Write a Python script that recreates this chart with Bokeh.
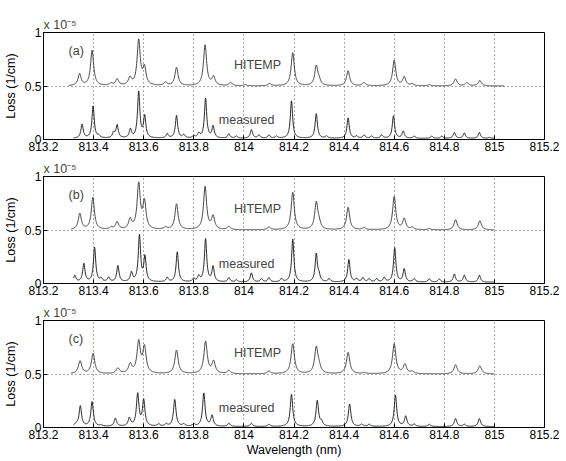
import numpy as np
from bokeh.plotting import figure
from bokeh.models import FixedTicker, Label
from bokeh.layouts import column
from bokeh.embed import file_html
from bokeh.resources import INLINE

# ---------------- data (units of 1e-5 1/cm) ----------------
x_ticks = [813.2, 813.4, 813.6, 813.8, 814.0, 814.2, 814.4, 814.6, 814.8, 815.0, 815.2]
x_tick_labels = ["813.2", "813.4", "813.6", "813.8", "814", "814.2", "814.4",
                 "814.6", "814.8", "815", "815.2"]
y_ticks = [0, 0.5, 1]
y_tick_labels = ["0", "0.5", "1"]
panel_labels = ["(a)", "(b)", "(c)"]
series_names = ["HITEMP", "measured"]
scale_label = "x 10\u207b\u2075"
hitemp_offset = 0.5

# panel (a)
hit_a_centers = [813.344, 813.394, 813.47, 813.494, 813.545, 813.580, 813.603, 813.687,
                 813.731, 813.845, 813.879, 813.947, 814.006, 814.102, 814.195, 814.289,
                 814.30, 814.416, 814.479, 814.600, 814.640, 814.672, 814.741, 814.845,
                 814.890, 814.942]
hit_a_heights = [0.11, 0.33, 0.02, 0.06, 0.07, 0.42, 0.16, 0.03, 0.17, 0.38, 0.08, 0.03,
                 0.01, 0.02, 0.31, 0.18, 0.04, 0.14, 0.03, 0.24, 0.08, 0.015, 0.01, 0.065,
                 0.03, 0.05]
mea_a_centers = [813.354, 813.398, 813.42, 813.48, 813.494, 813.547, 813.580, 813.604,
                 813.694, 813.731, 813.76, 813.80, 813.82, 813.847, 813.877, 813.94, 813.97,
                 814.03, 814.06, 814.10, 814.13, 814.190, 814.289, 814.33, 814.416, 814.45,
                 814.48, 814.51, 814.55, 814.597, 814.636, 814.68, 814.75, 814.79, 814.840,
                 814.880, 814.940, 814.98]
mea_a_heights = [0.13, 0.30, 0.02, 0.05, 0.12, 0.08, 0.43, 0.20, 0.04, 0.21, 0.03, 0.02,
                 0.04, 0.37, 0.11, 0.04, 0.02, 0.08, 0.03, 0.03, 0.02, 0.35, 0.23, 0.02,
                 0.19, 0.02, 0.03, 0.02, 0.03, 0.21, 0.065, 0.02, 0.02, 0.02, 0.055, 0.05,
                 0.055, 0.01]

# panel (b)
hit_b_centers = [813.345, 813.397, 813.47, 813.494, 813.546, 813.580, 813.603, 813.687,
                 813.731, 813.845, 813.877, 813.94, 814.10, 814.195, 814.289, 814.30,
                 814.416, 814.479, 814.600, 814.640, 814.672, 814.74, 814.845, 814.942]
hit_b_heights = [0.15, 0.30, 0.02, 0.07, 0.09, 0.42, 0.25, 0.02, 0.24, 0.40, 0.12, 0.03,
                 0.025, 0.35, 0.25, 0.05, 0.21, 0.02, 0.31, 0.10, 0.02, 0.01, 0.095, 0.085]
mea_b_centers = [813.325, 813.361, 813.404, 813.43, 813.46, 813.497, 813.551, 813.583,
                 813.605, 813.694, 813.734, 813.80, 813.82, 813.847, 813.877, 813.94, 813.97,
                 814.03, 814.07, 814.10, 814.15, 814.195, 814.289, 814.30, 814.34, 814.419,
                 814.45, 814.475, 814.50, 814.53, 814.56, 814.602, 814.640, 814.68, 814.74,
                 814.78, 814.84, 814.88, 814.94]
mea_b_heights = [0.06, 0.17, 0.32, 0.03, 0.04, 0.15, 0.085, 0.43, 0.23, 0.04, 0.28, 0.03,
                 0.05, 0.40, 0.14, 0.04, 0.02, 0.085, 0.03, 0.04, 0.03, 0.40, 0.26, 0.05,
                 0.03, 0.21, 0.03, 0.04, 0.03, 0.03, 0.04, 0.32, 0.12, 0.03, 0.03, 0.03,
                 0.075, 0.065, 0.065]

# panel (c)
hit_c_centers = [813.346, 813.398, 813.497, 813.546, 813.580, 813.603, 813.731, 813.847,
                 813.879, 813.94, 814.10, 814.195, 814.289, 814.30, 814.416, 814.48,
                 814.600, 814.643, 814.672, 814.845, 814.942]
hit_c_heights = [0.12, 0.19, 0.05, 0.085, 0.29, 0.24, 0.22, 0.30, 0.11, 0.03, 0.025, 0.28,
                 0.24, 0.05, 0.20, 0.01, 0.28, 0.085, 0.02, 0.085, 0.075]
mea_c_centers = [813.33, 813.347, 813.394, 813.43, 813.487, 813.543, 813.576, 813.600,
                 813.66, 813.69, 813.724, 813.76, 813.80, 813.840, 813.873, 813.94, 814.03,
                 814.10, 814.190, 814.293, 814.31, 814.422, 814.47, 814.50, 814.605,
                 814.646, 814.68, 814.74, 814.845, 814.88, 814.940]
mea_c_heights = [0.02, 0.19, 0.23, 0.01, 0.075, 0.075, 0.30, 0.24, 0.02, 0.02, 0.25, 0.02,
                 0.02, 0.31, 0.10, 0.03, 0.03, 0.02, 0.30, 0.24, 0.04, 0.21, 0.02, 0.02,
                 0.29, 0.095, 0.02, 0.02, 0.075, 0.02, 0.075]

# spectral extent of each trace (nm) and line half-widths (nm)
hit_spans = [(813.30, 815.04), (813.31, 815.00), (813.31, 815.00)]
mea_spans = [(813.32, 815.00), (813.32, 815.00), (813.32, 815.00)]
hit_widths = [0.0075, 0.0075, 0.008]
mea_widths = [0.0055, 0.0055, 0.006]
mea_base = [0.01, 0.012, 0.008]

hit_centers = [hit_a_centers, hit_b_centers, hit_c_centers]
hit_heights = [hit_a_heights, hit_b_heights, hit_c_heights]
mea_centers = [mea_a_centers, mea_b_centers, mea_c_centers]
mea_heights = [mea_a_heights, mea_b_heights, mea_c_heights]

FONT = "Liberation Sans"


def line_profile(span, centers, heights, gamma, base):
    x = np.arange(span[0], span[1] + 1e-9, 0.001)
    y = np.full_like(x, base)
    for c, h in zip(centers, heights):
        y += h / (1.0 + ((x - c) / gamma) ** 2)
    return x, y


def make_panel(i, last):
    top = 32 if i == 0 else 16
    bottom = 31 if last else 20
    p = figure(frame_width=501, frame_height=107, x_range=(813.2, 815.2),
               y_range=(0, 1), output_backend="svg", toolbar_location=None,
               min_border_left=40, min_border_right=15, min_border_top=top,
               min_border_bottom=bottom)
    p.background_fill_color = "white"
    p.border_fill_color = "white"
    p.outline_line_color = "black"
    p.outline_line_width = 1

    p.title.text = scale_label
    p.title.align = "left"
    p.title.text_font = FONT
    p.title.text_font_size = "12.5px"
    p.title.text_font_style = "normal"
    p.title.standoff = 1
    p.title.offset = 0

    p.xaxis.ticker = FixedTicker(ticks=x_ticks)
    p.xaxis.major_label_overrides = dict(zip(x_ticks, x_tick_labels))
    p.yaxis.ticker = FixedTicker(ticks=y_ticks)
    p.yaxis.major_label_overrides = dict(zip(y_ticks, y_tick_labels))
    for ax in (p.xaxis, p.yaxis):
        ax.major_tick_in = 4
        ax.major_tick_out = 0
        ax.minor_tick_line_color = None
        ax.axis_line_color = "black"
        ax.major_tick_line_color = "black"
        ax.major_label_text_font = FONT
        ax.major_label_text_font_size = "12px"
        ax.major_label_text_color = "black"
        ax.major_label_standoff = 2
        ax.axis_label_text_font = FONT
        ax.axis_label_text_font_size = "12.5px"
        ax.axis_label_text_font_style = "normal"
        ax.axis_label_text_color = "black"
    p.yaxis.axis_label = "Loss (1/cm)"
    p.yaxis.axis_label_standoff = 4
    if last:
        p.xaxis.axis_label = "Wavelength (nm)"
        p.xaxis.axis_label_standoff = 1

    p.xgrid.ticker = FixedTicker(ticks=x_ticks)
    p.ygrid.ticker = FixedTicker(ticks=[0.5])
    for g in (p.xgrid, p.ygrid):
        g.grid_line_color = "#555555"
        g.grid_line_dash = "1 3"
        g.grid_line_width = 1

    xh, yh = line_profile(hit_spans[i], hit_centers[i], hit_heights[i], hit_widths[i],
                          hitemp_offset)
    xm, ym = line_profile(mea_spans[i], mea_centers[i], mea_heights[i], mea_widths[i],
                          mea_base[i])
    p.line(xh, yh, line_color="#333333", line_width=0.9)
    p.line(xm, ym, line_color="#111111", line_width=0.9)

    p.add_layout(Label(x=813.3, y=0.83, text=panel_labels[i], text_font=FONT,
                       text_font_size="12.5px", text_baseline="middle"))
    p.add_layout(Label(x=813.96, y=0.70, text=series_names[0], text_font=FONT,
                       text_font_size="12.5px", text_baseline="middle"))
    p.add_layout(Label(x=813.9, y=0.185, text=series_names[1], text_font=FONT,
                       text_font_size="12.5px", text_baseline="middle"))
    return p


panels = [make_panel(i, i == 2) for i in range(3)]
layout = column(*panels, spacing=0)
open("out.html", "w").write(file_html(layout, INLINE))
